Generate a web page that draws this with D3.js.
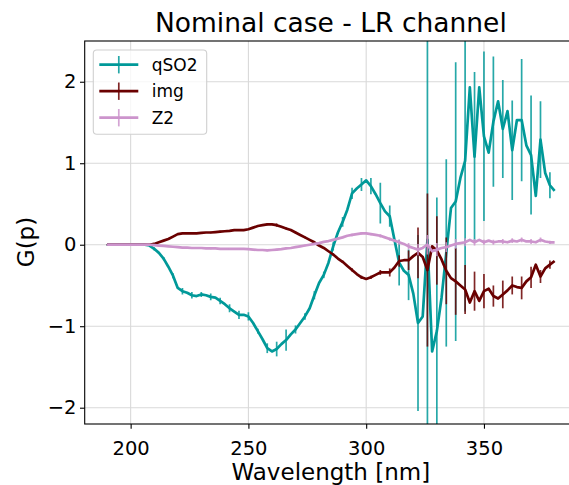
<!DOCTYPE html>
<html>
<head>
<meta charset="utf-8">
<script src="https://cdn.jsdelivr.net/npm/d3@7"></script>
<style>
    body { margin: 0; background: #fff; }
    svg { display: block; }
    text { font-family: "DejaVu Sans", sans-serif; fill: #000; }
</style>
</head>
<body>
<svg id="chart" width="569" height="485"></svg>
<script>
var wavelength = [190, 192, 194, 196, 198, 200, 202, 204, 206, 208,
    210, 212, 214, 216, 218, 220, 222, 224, 226, 228,
    230, 232, 234, 236, 238, 240, 242, 244, 246, 248,
    250, 252, 254, 256, 258, 260, 262, 264, 266, 268,
    270, 272, 274, 276, 278, 280, 282, 284, 286, 288,
    290, 292, 294, 296, 298, 300, 302, 304, 306, 308,
    310, 312, 314, 316, 318, 320, 322, 324, 326, 328,
    330, 332, 334, 336, 338, 340, 342, 344, 346, 348,
    350, 352, 354, 356, 358, 360, 362, 364, 366, 368,
    370, 372, 374, 376, 378, 380];

var qSO2 = [0, 0, 0, 0, 0, 0, 0, 0, 0, -0.01,
    -0.05, -0.10, -0.17, -0.27, -0.38, -0.53, -0.57, -0.59, -0.62, -0.63,
    -0.61, -0.62, -0.64, -0.65, -0.69, -0.73, -0.78, -0.82, -0.86, -0.86,
    -0.88, -0.96, -1.06, -1.16, -1.27, -1.31, -1.28, -1.22, -1.17, -1.10,
    -1.04, -0.96, -0.88, -0.78, -0.62, -0.47, -0.37, -0.22, -0.02, 0.15,
    0.28, 0.43, 0.63, 0.69, 0.74, 0.79, 0.72, 0.62, 0.51, 0.41,
    0.35, 0.06, -0.22, -0.32, -0.37, -0.60, -0.96, -0.88, 0.06, -1.31,
    -1.06, -0.65, -0.10, 0.45, 0.53, 0.82, 1.03, 1.93, 1.08, 1.93,
    1.33, 1.13, 1.51, 1.76, 1.42, 1.64, 1.16, 1.53, 1.53, 1.22,
    1.10, 0.60, 1.29, 0.88, 0.73, 0.66];

var img = [0, 0, 0, 0, 0, 0, 0, 0, 0, 0,
    0.01, 0.03, 0.05, 0.07, 0.10, 0.13, 0.14, 0.14, 0.14, 0.14,
    0.145, 0.15, 0.15, 0.155, 0.16, 0.165, 0.17, 0.18, 0.18, 0.18,
    0.19, 0.21, 0.23, 0.24, 0.25, 0.25, 0.24, 0.22, 0.20, 0.18,
    0.15, 0.12, 0.09, 0.06, 0.03, -0.01, -0.04, -0.08, -0.12, -0.17,
    -0.21, -0.26, -0.31, -0.36, -0.40, -0.42, -0.40, -0.37, -0.34, -0.34,
    -0.34, -0.28, -0.20, -0.19, -0.19, -0.14, -0.10, -0.15, -0.31, -0.02,
    -0.07, -0.18, -0.32, -0.41, -0.45, -0.50, -0.55, -0.71, -0.57, -0.69,
    -0.57, -0.54, -0.63, -0.66, -0.61, -0.56, -0.50, -0.52, -0.53, -0.45,
    -0.40, -0.245, -0.39, -0.29, -0.245, -0.20];

var Z2 = [0, 0, 0, 0, 0, 0, 0, 0, 0, 0,
    -0.005, -0.01, -0.015, -0.02, -0.025, -0.03, -0.035, -0.035, -0.04, -0.04,
    -0.04, -0.045, -0.045, -0.045, -0.05, -0.05, -0.05, -0.05, -0.05, -0.05,
    -0.055, -0.06, -0.065, -0.065, -0.07, -0.065, -0.06, -0.055, -0.045, -0.04,
    -0.03, -0.02, -0.01, 0.0, 0.01, 0.02, 0.035, 0.045, 0.06, 0.075,
    0.09, 0.11, 0.12, 0.13, 0.14, 0.14, 0.13, 0.12, 0.11, 0.09,
    0.07, 0.05, 0.03, 0.01, -0.02, -0.04, -0.06, -0.04, 0.0, -0.08,
    -0.06, -0.04, -0.03, -0.01, 0.01, 0.02, 0.03, 0.06, 0.03, 0.06,
    0.03, 0.05, 0.03, 0.04, 0.04, 0.03, 0.05, 0.04, 0.06, 0.04,
    0.04, 0.03, 0.06, 0.04, 0.03, 0.03];

// error bars are only drawn on every second sample
var errWavelength = [190, 194, 198, 202, 206, 210, 214, 218, 222, 226,
    230, 234, 238, 242, 246, 250, 254, 258, 262, 266,
    270, 274, 278, 282, 286, 290, 294, 298, 302, 306,
    310, 314, 318, 322, 326, 330, 334, 338, 342, 346,
    350, 354, 358, 362, 366, 370, 374, 378];

var qSO2_err = [0.01, 0.01, 0.01, 0.01, 0.01, 0.02, 0.02, 0.03, 0.04, 0.04,
    0.03, 0.04, 0.04, 0.05, 0.05, 0.05, 0.03, 0.06, 0.09, 0.13,
    0.05, 0.04, 0.05, 0.04, 0.05, 0.06, 0.07, 0.08, 0.10, 0.25,
    0.13, 0.28, 0.31, 1.08, 2.9, 1.64, 1.15, 1.71, 1.85, 1.04,
    1.04, 0.8, 0.6, 0.61, 0.75, 0.73, 0.47, 0.16];

var img_err = [0.005, 0.005, 0.005, 0.005, 0.005, 0.005, 0.005, 0.005, 0.005, 0.005,
    0.01, 0.01, 0.01, 0.01, 0.01, 0.01, 0.01, 0.01, 0.02, 0.01,
    0.01, 0.01, 0.01, 0.01, 0.015, 0.015, 0.02, 0.02, 0.02, 0.03,
    0.05, 0.07, 0.12, 0.31, 0.94, 0.42, 0.41, 0.41, 0.30, 0.24,
    0.21, 0.13, 0.17, 0.11, 0.14, 0.13, 0.08, 0.05];

var Z2_err = [0.005, 0.005, 0.005, 0.005, 0.005, 0.005, 0.005, 0.005, 0.005, 0.005,
    0.01, 0.01, 0.01, 0.01, 0.01, 0.01, 0.01, 0.01, 0.01, 0.01,
    0.01, 0.01, 0.01, 0.01, 0.01, 0.01, 0.015, 0.015, 0.015, 0.02,
    0.02, 0.03, 0.04, 0.07, 0.12, 0.08, 0.06, 0.06, 0.05, 0.04,
    0.03, 0.03, 0.03, 0.03, 0.03, 0.03, 0.03, 0.02];

var xTicks = [200, 250, 300, 350];
var yTicks = [-2, -1, 0, 1, 2];

var series = [
    { name: "qSO2", values: qSO2, err: qSO2_err, color: "#009999" },
    { name: "img", values: img, err: img_err, color: "#6a0000" },
    { name: "Z2", values: Z2, err: Z2_err, color: "#cc94cc" }
];

var margin = { top: 41, left: 84.7 },
    plotW = 492.3,
    plotH = 383;

var svg = d3.select("#chart");

var x = d3.scaleLinear().domain([180.5, 389.5]).range([margin.left, margin.left + plotW]);
var y = d3.scaleLinear().domain([-2.2, 2.5]).range([margin.top + plotH, margin.top]);

svg.append("defs").append("clipPath").attr("id", "plotclip")
    .append("rect")
    .attr("x", margin.left).attr("y", margin.top)
    .attr("width", plotW).attr("height", plotH);

// grid
var grid = svg.append("g");
grid.selectAll(".gx").data(xTicks).join("line")
    .attr("x1", d => x(d)).attr("x2", d => x(d))
    .attr("y1", margin.top).attr("y2", margin.top + plotH)
    .attr("stroke", "#d9d9d9").attr("stroke-width", 1.1);
grid.selectAll(".gy").data(yTicks).join("line")
    .attr("x1", margin.left).attr("x2", margin.left + plotW)
    .attr("y1", d => y(d)).attr("y2", d => y(d))
    .attr("stroke", "#d9d9d9").attr("stroke-width", 1.1);

var plot = svg.append("g").attr("clip-path", "url(#plotclip)");

var line = d3.line()
    .x((d, i) => x(wavelength[i]))
    .y(d => y(d));

series.forEach(function (s) {
    var g = plot.append("g");
    g.append("path")
        .datum(s.values)
        .attr("d", line)
        .attr("fill", "none")
        .attr("stroke", s.color)
        .attr("stroke-width", 2.7)
        .attr("stroke-linejoin", "round");
    g.selectAll("line.err")
        .data(s.err)
        .join("line")
        .attr("class", "err")
        .attr("x1", (d, i) => x(errWavelength[i]))
        .attr("x2", (d, i) => x(errWavelength[i]))
        .attr("y1", (d, i) => y(s.values[wavelength.indexOf(errWavelength[i])] - d))
        .attr("y2", (d, i) => y(s.values[wavelength.indexOf(errWavelength[i])] + d))
        .attr("stroke", s.color)
        .attr("stroke-width", 1.7)
        .attr("stroke-opacity", 0.85);
});

// axes
var xAxis = svg.append("g")
    .attr("transform", "translate(0," + (margin.top + plotH) + ")")
    .call(d3.axisBottom(x).tickValues(xTicks).tickSize(4.7).tickPadding(4.7).tickFormat(d3.format("d")));
var yAxis = svg.append("g")
    .attr("transform", "translate(" + margin.left + ",0)")
    .call(d3.axisLeft(y).tickValues(yTicks).tickSize(4.7).tickPadding(3.5).tickFormat(d => d < 0 ? "\u2212" + Math.abs(d) : d));

[xAxis, yAxis].forEach(function (a) {
    a.select(".domain").remove();
    a.selectAll(".tick line").attr("stroke", "#000").attr("stroke-width", 1.1);
    a.selectAll(".tick text").style("font-size", "19.5px").attr("fill", "#000");
});
xAxis.selectAll(".tick text").attr("dy", "1.1em");

// spines
svg.append("rect")
    .attr("x", margin.left).attr("y", margin.top)
    .attr("width", plotW).attr("height", plotH)
    .attr("fill", "none").attr("stroke", "#000").attr("stroke-width", 1.1);

svg.append("text")
    .attr("x", margin.left + plotW / 2).attr("y", 32)
    .attr("text-anchor", "middle")
    .style("font-size", "26.5px")
    .text("Nominal case - LR channel");

svg.append("text")
    .attr("x", margin.left + plotW / 2).attr("y", 479.5)
    .attr("text-anchor", "middle")
    .style("font-size", "23px")
    .text("Wavelength [nm]");

svg.append("text")
    .attr("transform", "translate(34,242) rotate(-90)")
    .attr("text-anchor", "middle")
    .style("font-size", "23px")
    .text("G(p)");

// legend
var legend = svg.append("g");
legend.append("rect")
    .attr("x", 93.3).attr("y", 50)
    .attr("width", 113.4).attr("height", 84.3)
    .attr("rx", 3.5)
    .attr("fill", "#fff").attr("fill-opacity", 0.8)
    .attr("stroke", "#d0d0d0").attr("stroke-width", 1.1);

var rowY = d3.scalePoint().domain(series.map(s => s.name)).range([64.7, 117.7]);
var item = legend.selectAll("g.item").data(series).join("g")
    .attr("transform", d => "translate(0," + rowY(d.name) + ")");
item.append("line")
    .attr("x1", 99.3).attr("x2", 138.3)
    .attr("stroke", d => d.color).attr("stroke-width", 2.7);
item.append("line")
    .attr("x1", 118.8).attr("x2", 118.8)
    .attr("y1", -8.7).attr("y2", 8.7)
    .attr("stroke", d => d.color).attr("stroke-width", 1.7).attr("stroke-opacity", 0.85);
item.append("text")
    .attr("x", 151.7).attr("y", 6.2)
    .style("font-size", "17px")
    .text(d => d.name);
</script>
</body>
</html>
